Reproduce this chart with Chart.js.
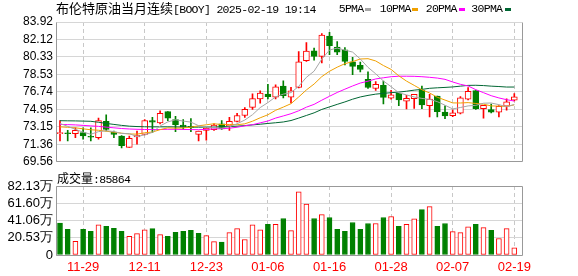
<!DOCTYPE html>
<html>
<head>
<meta charset="utf-8">
<script src="https://cdn.jsdelivr.net/npm/chart.js@4.4.1/dist/chart.umd.min.js"></script>
<style>
html, body { margin:0; padding:0; background:#fff; }
#wrap { position:relative; width:578px; height:276px; overflow:hidden; }
canvas { position:absolute; left:0; }
#kline { top:0; }
#vol { top:172px; }
.txt { position:absolute; white-space:nowrap; color:#000; line-height:16px; }
.cn { font-family:"Noto Sans CJK SC"; font-size:13px; }
.cn12 { font-family:"Noto Sans CJK SC"; font-size:12px; }
.mono { font-family:"Liberation Mono"; font-size:11.5px; letter-spacing:-0.7px; }
.dash { position:absolute; width:6px; height:3px; }
</style>
</head>
<body>
<div id="wrap">
  <canvas id="kline" width="578" height="172"></canvas>
  <canvas id="vol" width="578" height="104"></canvas>
  <div class="txt" style="left:56px;top:0px;"><span class="cn">布伦特原油当月连续</span><span class="mono">[BOOY] 2025-02-19 19:14</span></div>
  <div id="legend"></div>
  <div class="txt" id="volTitle" style="left:57px;top:170px;"></div>
</div>
<script>
// trading days shown on the chart
var dates = ['11-26','11-27','11-28','11-29','12-02','12-03','12-04','12-05','12-06','12-09',
  '12-10','12-11','12-12','12-13','12-16','12-17','12-18','12-19','12-20','12-23',
  '12-24','12-26','12-27','12-30','12-31','01-02','01-03','01-06','01-07','01-08',
  '01-09','01-10','01-13','01-14','01-15','01-16','01-17','01-20','01-21','01-22',
  '01-23','01-24','01-27','01-28','01-29','01-30','01-31','02-03','02-04','02-05',
  '02-06','02-07','02-10','02-11','02-12','02-13','02-14','02-17','02-18','02-19'];

var opens = [72.45,72.47,72.45,72.55,72.12,72.05,73.72,72.61,72.21,71.04,
  72.11,72.38,73.79,73.55,74.72,73.89,73.32,73.15,72.38,72.78,
  72.85,73.45,73.22,73.72,74.32,75.15,76.02,76.52,76.19,77.33,
  76.19,77.20,79.95,80.96,80.39,82.47,81.35,81.06,79.82,79.46,
  78.03,77.09,77.42,76.09,76.60,75.80,76.05,76.92,75.33,76.30,
  74.66,74.29,74.56,76.00,76.87,75.03,74.93,74.66,75.27,75.90];
var highs = [73.79,72.78,73.05,73.05,73.05,74.05,74.39,72.72,72.25,72.20,
  72.72,73.89,74.12,74.79,74.72,74.22,73.89,73.99,72.72,73.10,
  73.45,73.79,74.12,74.55,75.12,76.55,76.86,77.53,77.46,77.87,
  77.20,80.89,81.80,81.23,82.74,82.85,81.90,81.30,80.30,79.80,
  78.80,77.80,77.86,76.90,76.60,76.40,76.50,77.33,76.50,76.30,
  75.30,74.90,76.26,77.18,76.87,75.36,75.50,75.33,76.04,76.57];
var lows = [71.71,71.71,72.05,71.88,71.71,71.88,72.72,72.05,70.98,71.04,
  71.38,72.31,72.55,73.45,73.79,72.65,72.88,72.65,71.71,71.78,
  72.78,72.88,72.78,73.65,74.12,74.95,75.58,76.02,76.02,76.12,
  75.62,77.15,79.88,79.99,79.71,80.56,80.56,79.50,78.50,78.80,
  77.09,76.90,75.50,76.00,75.33,75.00,75.05,75.03,74.16,74.16,
  74.00,74.20,74.47,75.92,74.95,74.05,74.57,74.17,74.86,75.82];
var closes = [72.45,72.44,72.78,72.21,72.08,73.79,72.88,72.38,71.21,71.98,
  72.28,73.79,73.62,74.55,74.05,73.38,73.12,73.10,72.72,73.02,
  73.32,72.95,73.72,74.32,74.95,76.05,76.62,76.25,77.26,76.36,
  76.85,79.82,80.93,80.39,82.57,81.50,80.83,79.88,79.37,79.04,
  77.19,77.52,76.18,76.45,75.91,76.09,76.48,75.40,76.01,74.70,
  74.27,74.58,76.12,76.81,75.03,75.37,74.66,75.27,75.73,76.24];

var ma5 = [73.50,73.20,72.90,72.60,72.39,72.66,72.75,72.67,72.47,72.45,
  72.15,72.33,72.58,73.24,73.66,73.88,73.74,73.64,73.27,73.07,
  73.06,73.02,73.15,73.47,73.85,74.40,75.13,75.64,76.23,76.51,
  76.67,77.31,78.24,78.87,80.11,81.04,81.24,81.03,80.83,80.12,
  79.26,78.60,77.86,77.28,76.65,76.43,76.22,76.07,75.98,75.74,
  75.37,74.99,75.14,75.30,75.36,75.58,75.60,75.43,75.21,75.45];
var ma10 = [73.15,73.10,73.05,72.95,72.85,72.80,72.70,72.60,72.50,72.42,
  72.40,72.54,72.62,72.86,73.05,73.01,73.04,73.11,73.26,73.36,
  73.47,73.38,73.39,73.37,73.46,73.73,74.08,74.39,74.85,75.18,
  75.53,76.22,76.94,77.55,78.31,78.86,79.28,79.64,79.85,80.12,
  80.15,79.92,79.45,79.05,78.39,77.85,77.41,76.96,76.63,76.19,
  75.90,75.61,75.60,75.64,75.55,75.48,75.30,75.28,75.25,75.41];
var ma20 = [73.40,73.38,73.35,73.30,73.25,73.20,73.12,73.05,72.98,72.93,
  72.90,72.88,72.87,72.88,72.90,72.90,72.88,72.87,72.86,72.89,
  72.94,72.96,73.01,73.11,73.26,73.37,73.56,73.75,74.05,74.27,
  74.50,74.80,75.17,75.46,75.89,76.29,76.68,77.02,77.35,77.65,
  77.84,78.07,78.19,78.30,78.35,78.35,78.34,78.30,78.24,78.16,
  78.03,77.76,77.52,77.35,76.97,76.66,76.35,76.12,75.94,75.80];
var ma30 = [73.78,73.77,73.76,73.74,73.72,73.62,73.50,73.40,73.30,73.22,
  73.18,73.16,73.15,73.15,73.15,73.14,73.13,73.12,73.12,73.12,
  73.13,73.15,73.18,73.22,73.28,73.35,73.42,73.50,73.57,73.65,
  73.80,74.05,74.32,74.59,74.94,75.20,75.46,75.71,75.99,76.22,
  76.38,76.51,76.59,76.66,76.72,76.81,76.92,77.00,77.11,77.16,
  77.20,77.25,77.33,77.41,77.42,77.39,77.33,77.29,77.24,77.24];

var vols = [379000,305000,164000,305000,282000,360000,340000,317000,282000,223000,
  254000,301000,313000,242000,223000,270000,282000,293000,258000,231000,
  160000,153000,266000,313000,184000,360000,301000,364000,364000,434000,
  291000,751000,606000,434000,481000,446000,305000,282000,387000,305000,
  375000,375000,446000,458000,340000,364000,430000,540000,575000,340000,
  375000,278000,266000,336000,364000,325000,293000,196000,313000,85864];

var priceTicks = [69.56,71.36,73.15,74.95,76.74,78.53,80.33,82.12,83.92];
var volTicks = [0,205325,410650,615975,821300];

var maNames = ['5PMA','10PMA','20PMA','30PMA'];
var maColors = ['#a6a6a6','#f0a000','#ff00ff','#006633'];

var RED = '#ff0000', GREEN = '#008000', FRAME = '#999999';
Chart.defaults.font.family = '"Liberation Sans", Arial, sans-serif';

// legend + volume caption as text
var legendLeft = [338.7, 379.7, 425.7, 471.3];
var dashLeft = [364.7, 412, 459, 505.3];
var lg = document.getElementById('legend');
maNames.forEach(function(n, i){
  var t = document.createElement('div');
  t.className = 'txt mono';
  t.style.left = legendLeft[i] + 'px'; t.style.top = '1px';
  t.textContent = n;
  lg.appendChild(t);
  var d = document.createElement('div');
  d.className = 'dash';
  d.style.left = dashLeft[i] + 'px'; d.style.top = '8px';
  d.style.background = maColors[i];
  lg.appendChild(d);
});
document.getElementById('volTitle').innerHTML =
  '<span class="cn12">成交量</span><span class="mono">:' + vols[vols.length - 1] + '</span>';

var up = closes.map(function(c, i){ return c >= opens[i]; });
var volUp = closes.map(function(c, i){ return i === 0 ? c > opens[i] : c > closes[i - 1]; });
var xTickIdx = dates.map(function(d, i){ return i; }).filter(function(i){ return i % 8 === 3; });

function frame(sides) {
  return {
    id: 'frame',
    afterDraw: function(chart) {
      var a = chart.chartArea, ctx = chart.ctx;
      var l = Math.floor(a.left) + 0.5, r = Math.floor(a.right) + 0.5;
      var t = Math.floor(a.top) + 0.5, b = Math.floor(a.bottom) + 0.5;
      ctx.save();
      ctx.strokeStyle = FRAME; ctx.lineWidth = 1;
      ctx.beginPath();
      if (sides.indexOf('l') >= 0) { ctx.moveTo(l, t); ctx.lineTo(l, b); }
      if (sides.indexOf('r') >= 0) { ctx.moveTo(r, t); ctx.lineTo(r, b); }
      if (sides.indexOf('t') >= 0) { ctx.moveTo(l, t); ctx.lineTo(r, t); }
      if (sides.indexOf('b') >= 0) { ctx.moveTo(l, b); ctx.lineTo(r, b); }
      ctx.stroke();
      ctx.restore();
    }
  };
}

function xScale(showLabels) {
  return {
    type: 'linear', min: -0.52, max: 60, offset: false,
    afterBuildTicks: function(s){ s.ticks = xTickIdx.map(function(v){ return {value: v}; }); },
    afterFit: function(s){ s.height = showLabels ? 21 : 0; },
    grid: { offset: false, color: '#c8c8c8', drawTicks: false },
    border: { display: false, dash: [4, 3] },
    ticks: { display: showLabels, color: RED, padding: 5, maxRotation: 0, autoSkip: false,
      font: { size: 13 }, callback: function(v){ return dates[v]; } }
  };
}

var maSets = [ma5, ma10, ma20, ma30].map(function(arr, k){
  return {
    type: 'line', label: maNames[k], order: k,
    data: arr.map(function(v, i){ return {x: i, y: v}; }),
    borderColor: maColors[k], borderWidth: 1, pointRadius: 0, tension: 0
  };
});

new Chart(document.getElementById('kline'), {
  type: 'bar',
  data: {
    datasets: maSets.concat([
      {
        label: 'body', order: 5, grouped: false,
        data: opens.map(function(o, i){ return {x: i, y: [o, closes[i]]}; }),
        backgroundColor: up.map(function(u){ return u ? '#ffffff' : GREEN; }),
        borderColor: up.map(function(u){ return u ? RED : GREEN; }),
        borderWidth: 1, borderSkipped: false, barThickness: 6, minBarLength: 1
      },
      {
        label: 'wick', order: 6, grouped: false,
        data: lows.map(function(l, i){ return {x: i, y: [l, highs[i]]}; }),
        backgroundColor: up.map(function(u){ return u ? RED : GREEN; }),
        borderWidth: 0, barThickness: 1
      }
    ])
  },
  options: {
    responsive: false, animation: false,
    layout: { padding: { top: 22, right: 56, bottom: 6.5, left: 0 } },
    plugins: { legend: { display: false }, tooltip: { enabled: false } },
    scales: {
      x: xScale(false),
      y: {
        min: priceTicks[0], max: priceTicks[priceTicks.length - 1], beginAtZero: false,
        afterBuildTicks: function(s){ s.ticks = priceTicks.map(function(v){ return {value: v}; }); },
        afterFit: function(s){ s.width = 56; },
        grid: { color: '#d6d6d6', drawTicks: false },
        border: { display: false },
        ticks: { color: '#000', padding: 3, autoSkip: false, font: { size: 12 },
          callback: function(v){ return v.toFixed(2); } }
      }
    }
  },
  plugins: [frame('lrb')]
});

new Chart(document.getElementById('vol'), {
  type: 'bar',
  data: {
    datasets: [{
      label: 'volume', grouped: false,
      data: vols.map(function(v, i){ return {x: i, y: v}; }),
      backgroundColor: volUp.map(function(u){ return u ? '#ffffff' : GREEN; }),
      borderColor: volUp.map(function(u){ return u ? RED : GREEN; }),
      borderWidth: 1, borderSkipped: false, barThickness: 5
    }]
  },
  options: {
    responsive: false, animation: false,
    layout: { padding: { top: 14, right: 56, bottom: 0, left: 0 } },
    plugins: { legend: { display: false }, tooltip: { enabled: false } },
    scales: {
      x: xScale(true),
      y: {
        min: 0, max: volTicks[volTicks.length - 1],
        afterBuildTicks: function(s){ s.ticks = volTicks.map(function(v){ return {value: v}; }); },
        afterFit: function(s){ s.width = 56; },
        grid: { color: '#d6d6d6', drawTicks: false },
        border: { display: false },
        ticks: { color: '#000', padding: 3, autoSkip: false, font: { size: 13 },
          callback: function(v){ return v === 0 ? '0' : (v / 10000).toFixed(2) + '万'; } }
      }
    }
  },
  plugins: [frame('lrtb')]
});
</script>
</body>
</html>
